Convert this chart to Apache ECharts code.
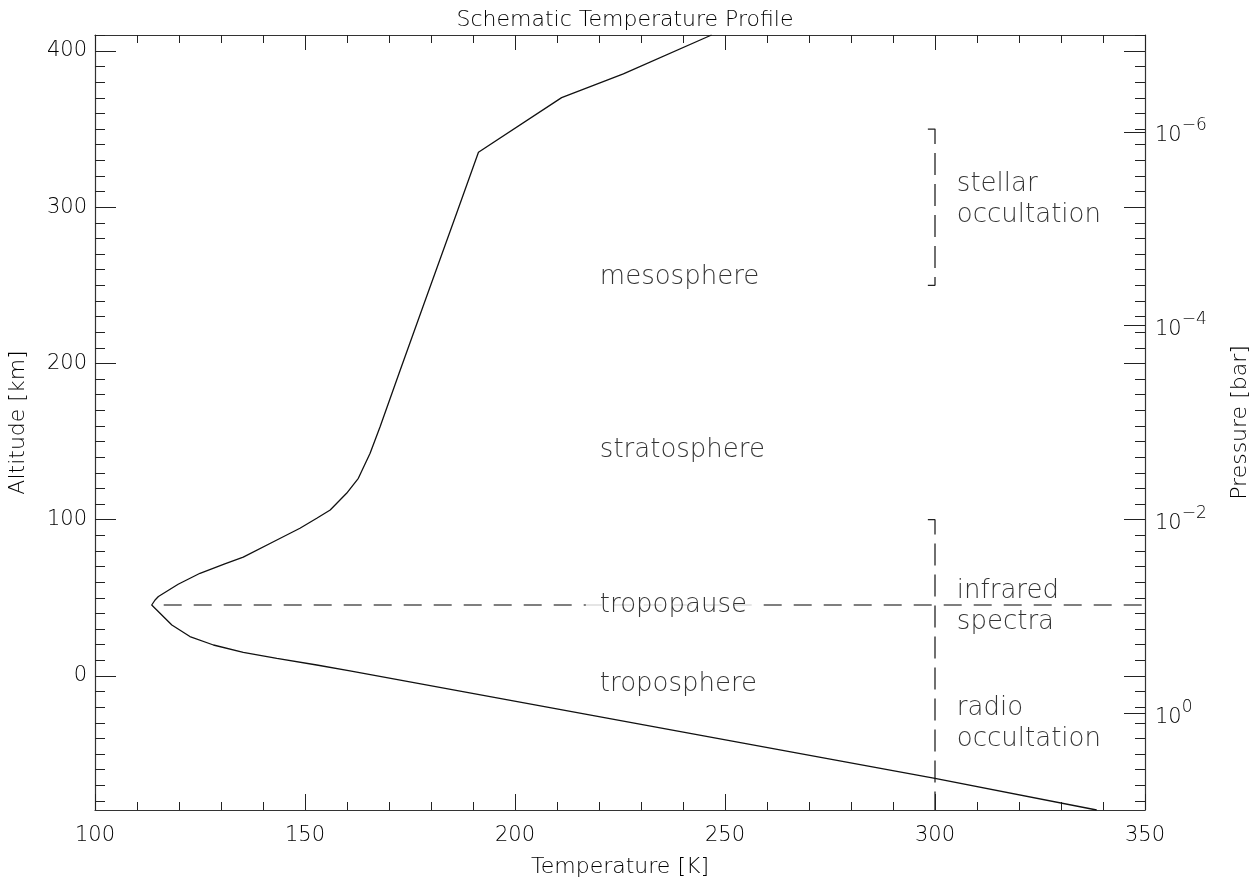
<!DOCTYPE html>
<html><head><meta charset="utf-8">
<script src="https://cdn.jsdelivr.net/npm/echarts@6/dist/echarts.min.js"></script>
<style>html,body{margin:0;padding:0;background:#fff}#c{width:1254px;height:877px}</style>
</head><body><div id="c"></div>
<script>
// ---- data ----
const profileTemp = [338.5, 300.0, 160.7, 152.8, 143.3, 135.3, 128.2, 122.6, 118.3, 114.7, 113.5, 114.3, 115.1, 119.8, 125.0, 130.9, 135.3, 143.3, 148.8, 152.8, 156.0, 159.9, 162.7, 165.5, 167.9, 172.4, 178.1, 186.1, 191.3, 211.1, 225.8, 246.8];
const profileAlt  = [-85.8, -65.5, 3.2, 7.0, 11.3, 15.1, 19.8, 25.2, 32.6, 42.2, 45.4, 48.6, 50.8, 58.7, 65.7, 71.7, 76.0, 87.0, 94.5, 100.9, 106.2, 116.9, 126.5, 142.5, 159.6, 193.7, 236.4, 296.1, 335.2, 370.1, 385.3, 410.2];

const tropopauseTemp = [113.5, 350];
const tropopauseAlt  = [45.4, 45.4];

const stellarTemp = [298.3, 300, 300, 298.3];
const stellarAlt  = [350, 350, 250, 250];
const radioTemp   = [298.3, 300, 300];
const radioAlt    = [100, 100, -85.8];

const layerNames = ['mesosphere', 'stratosphere', 'tropopause', 'troposphere'];
const layerTemp  = [220.2, 220.2, 220.2, 220.2];
const layerAlt   = [255.4, 144.6, 45.4, -5.1];

const methodNames = ['stellar\noccultation', 'infrared\nspectra', 'radio\noccultation'];
const methodTemp  = [305.2, 305.2, 305.2];
const methodAlt   = [304.5, 44.5, -30.4];

const tempRange      = [100, 350];
const altRange       = [-85.8, 410.2];
const pressureRange  = [1e-7, 10];
const altMajorTicks  = [0, 100, 200, 300, 400];
const altMinorTicks  = [-80, -70, -60, -50, -40, -30, -20, -10, 0, 10, 20, 30, 40, 50, 60, 70, 80, 90, 100, 110, 120, 130, 140, 150, 160, 170, 180, 190, 200, 210, 220, 230, 240, 250, 260, 270, 280, 290, 300, 310, 320, 330, 340, 350, 360, 370, 380, 390, 400, 410];
const pressureTicks  = [1e-6, 1e-4, 1e-2, 1];

// ---- chart ----
const FONT = 'DejaVu Sans';
const TXT = '#000';
const W = 200;
const zip = (a, b) => a.map((v, i) => [v, b[i]]);

function altAxis(pos, ticks, len, opts) {
  return Object.assign({
    type: 'value', gridIndex: 0, position: pos, offset: 0,
    min: altRange[0], max: altRange[1],
    axisLine: { show: false, onZero: false },
    axisTick: { show: true, inside: true, length: len, customValues: ticks, lineStyle: { color: '#222', width: 1 } },
    axisLabel: { show: false },
    splitLine: { show: false }
  }, opts || {});
}
function tempAxis(pos, showLabel) {
  return {
    type: 'value', gridIndex: 0, position: pos,
    min: tempRange[0], max: tempRange[1], interval: 50,
    axisLine: { show: true, onZero: false, lineStyle: { color: '#333', width: 1.2 } },
    axisTick: { show: true, inside: true, length: pos === 'top' ? 15 : 16, lineStyle: { color: '#222', width: 1 } },
    minorTick: { show: true, splitNumber: 5, length: 8, lineStyle: { color: '#222', width: 1 } },
    axisLabel: { show: showLabel, fontSize: 21, margin: 15, color: TXT, fontFamily: FONT, fontWeight: W },
    splitLine: { show: false }, minorSplitLine: { show: false },
    name: showLabel ? 'Temperature [K]' : '', nameLocation: 'middle', nameGap: 46,
    nameTextStyle: { fontSize: 22, color: TXT, fontFamily: FONT, fontWeight: W }
  };
}

const option = {
  animation: false,
  backgroundColor: '#fff',
  title: {
    text: 'Schematic Temperature Profile', left: 620, top: 4, textAlign: 'center',
    textStyle: { fontSize: 22, fontWeight: W, color: TXT, fontFamily: FONT }
  },
  grid: { left: 95, right: 109, top: 35, bottom: 67, containLabel: false, outerBoundsMode: 'none' },
  xAxis: [tempAxis('bottom', true), tempAxis('top', false)],
  yAxis: [
    altAxis('left', altMajorTicks, 21, {
      axisLine: { show: true, onZero: false, lineStyle: { color: '#333', width: 1.2 } },
      axisLabel: { show: true, customValues: altMajorTicks, fontSize: 21, margin: 8, color: TXT, fontFamily: FONT, fontWeight: W },
      name: 'Altitude [km]', nameLocation: 'middle', nameGap: 66,
      nameTextStyle: { fontSize: 22, color: TXT, fontFamily: FONT, fontWeight: W }
    }),
    altAxis('left', altMinorTicks, 10),
    altAxis('right', altMajorTicks, 21, {
      axisLine: { show: true, onZero: false, lineStyle: { color: '#333', width: 1.2 } }
    }),
    altAxis('right', altMinorTicks, 10),
    {
      type: 'log', logBase: 10, gridIndex: 0, position: 'right', offset: 0,
      min: pressureRange[0], max: pressureRange[1], inverse: true,
      axisLine: { show: false },
      axisTick: { show: true, inside: true, length: 21, customValues: pressureTicks, lineStyle: { color: '#222', width: 1 } },
      axisLabel: {
        show: true, customValues: pressureTicks, margin: 10, color: TXT,
        formatter: function (v) {
          const e = Math.round(Math.log10(v));
          return '{b|10}{s|' + (e < 0 ? '\u2212' + (-e) : e) + '}';
        },
        rich: {
          b: { fontSize: 21, fontFamily: FONT, fontWeight: W, color: TXT, verticalAlign: 'bottom' },
          s: { fontSize: 17, fontFamily: FONT, fontWeight: W, color: TXT, verticalAlign: 'top', padding: [0, 0, 12, 0] }
        }
      },
      splitLine: { show: false },
      name: 'Pressure [bar]', nameLocation: 'middle', nameGap: 84,
      nameTextStyle: { fontSize: 22, color: TXT, fontFamily: FONT, fontWeight: W }
    }
  ],
  series: [
    {
      type: 'line', xAxisIndex: 0, yAxisIndex: 0, data: zip(tropopauseTemp, tropopauseAlt),
      showSymbol: false, silent: true, z: 1,
      lineStyle: { color: '#555', width: 1.6, type: [18, 12], dashOffset: 18 }
    },
    {
      type: 'line', xAxisIndex: 0, yAxisIndex: 0, data: zip(profileTemp, profileAlt),
      showSymbol: false, silent: true, z: 3, clip: true,
      lineStyle: { color: '#111', width: 1.3 }
    },
    {
      type: 'line', xAxisIndex: 0, yAxisIndex: 0, data: zip(stellarTemp, stellarAlt),
      showSymbol: false, silent: true, z: 2,
      lineStyle: { color: '#222', width: 1.3, type: [22, 9] }
    },
    {
      type: 'line', xAxisIndex: 0, yAxisIndex: 0, data: zip(radioTemp, radioAlt),
      showSymbol: false, silent: true, z: 2,
      lineStyle: { color: '#222', width: 1.3, type: [22, 9] }
    },
    {
      type: 'scatter', xAxisIndex: 0, yAxisIndex: 0, symbolSize: 0, silent: true, z: 5,
      data: layerNames.map((n, i) => ({ name: n, value: [layerTemp[i], layerAlt[i]] })),
      label: {
        show: true, position: 'right', distance: 0, offset: [-14, 0], formatter: '{b}',
        fontSize: 26, fontFamily: FONT, fontWeight: W, color: TXT,
        backgroundColor: '#fff', padding: [2, 14, 2, 14]
      }
    },
    {
      type: 'scatter', xAxisIndex: 0, yAxisIndex: 0, symbolSize: 0, silent: true, z: 5,
      data: methodNames.map((n, i) => ({ name: n, value: [methodTemp[i], methodAlt[i]] })),
      label: {
        show: true, position: 'right', distance: 0, formatter: '{b}',
        fontSize: 26, lineHeight: 31, fontFamily: FONT, fontWeight: W, color: TXT
      }
    }
  ]
};

const chart = echarts.init(document.getElementById('c'), null, { renderer: 'canvas' });
chart.setOption(option);
</script>
</body></html>
